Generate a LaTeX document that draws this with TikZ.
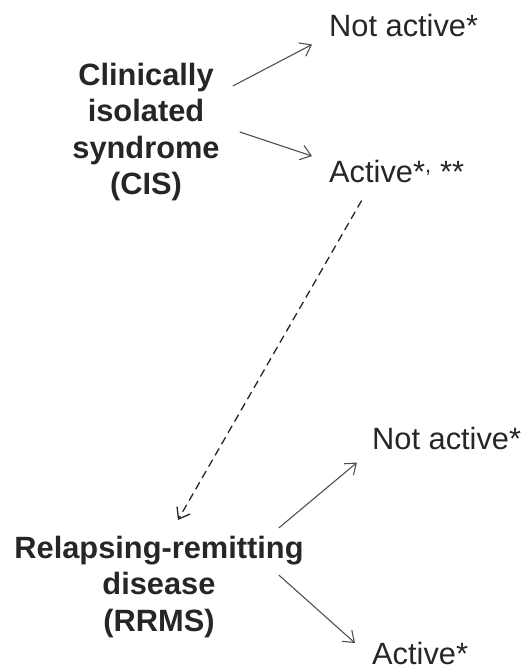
\documentclass[tikz,border=0pt]{standalone}
\usepackage{fontspec}
\setsansfont{Liberation Sans}
\usetikzlibrary{positioning,arrows.meta}

\definecolor{inkgray}{HTML}{262626}
\definecolor{linegray}{HTML}{505050}

\begin{document}
\begin{tikzpicture}[
    x=1pt, y=-1pt,
    % Styles
    disease/.style={
        font=\fontsize{30.8}{36.5}\selectfont\sffamily\bfseries,
        align=center, text=inkgray, inner sep=0pt,
    },
    state/.style={
        font=\fontsize{30.8}{36}\selectfont\sffamily,
        text=inkgray, anchor=west, inner sep=2pt,
    },
    arr/.style={-{Straight Barb[length=10pt,width=15pt]}, line width=1.1pt, #1},
    arr/.default={linegray},
    dasharr/.style={-{Straight Barb[length=10pt,width=15pt]}, line width=1.3pt,
        dash pattern=on 8pt off 5pt, #1},
    dasharr/.default={inkgray},
]
\useasboundingbox (0,0) rectangle (524,672);

% ================================================================
% TOP: CIS
% ================================================================
\node[disease] (cis) at (146, 132)
    {Clinically\\isolated\\syndrome\\(CIS)};
\node[state] (cisnot) at (327, 25) {Not active*};
\node[state] (cisact) at (327, 171) {Active*\textsuperscript{,} **};

% ================================================================
% BOTTOM: RRMS
% ================================================================
\node[disease] (rrms) at (159, 587)
    {Relapsing-remitting\\disease\\(RRMS)};
\node[state] (rrmsnot) at (370, 438) {Not active*};
\node[state] (rrmsact) at (370, 653) {Active*};

% ================================================================
% ARROWS
% ================================================================

% CIS -> states
\draw[arr] ([xshift=13pt,yshift=46pt]cis.east)
    -- ([xshift=-15pt,yshift=-6pt]cisnot.south west);
\draw[arr] ([xshift=20pt]cis.east)
    -- ([xshift=-15pt,yshift=15pt]cisact.west);

% Active CIS -> RRMS (conversion)
\draw[dasharr] ([xshift=-35pt,yshift=-16pt]cisact.south)
    -- ([xshift=19pt,yshift=16pt]rrms.north);

% RRMS -> states
\draw[arr] ([xshift=-25pt,yshift=8pt]rrms.north east)
    -- ([xshift=-13pt,yshift=-11pt]rrmsnot.south west);
\draw[arr] ([xshift=-25pt,yshift=12pt]rrms.east)
    -- ([xshift=-15pt,yshift=10pt]rrmsact.west);

\end{tikzpicture}
\end{document}
